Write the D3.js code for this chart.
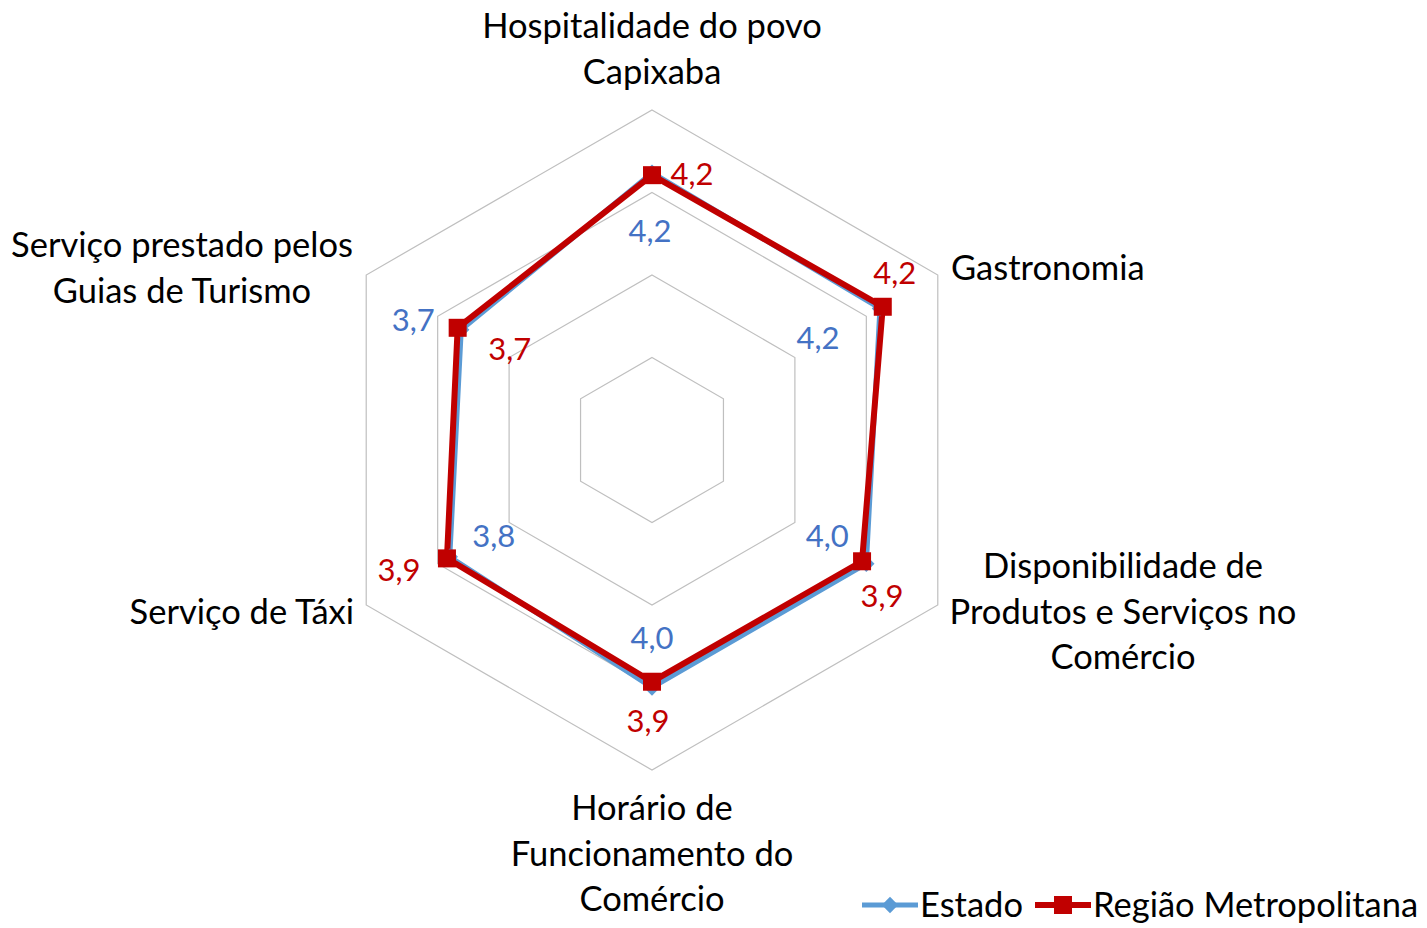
<!DOCTYPE html>
<html><head><meta charset="utf-8">
<script src="https://cdn.jsdelivr.net/npm/d3@7"></script>
<style>body{margin:0;background:#fff}svg{display:block}text{font-family:Lato,"Open Sans",sans-serif}</style>
</head><body><svg id="c" width="1427" height="928"></svg>
<script>
const categories = [
  ["Hospitalidade do povo","Capixaba"],
  ["Gastronomia"],
  ["Disponibilidade de","Produtos e Serviços no","Comércio"],
  ["Horário de","Funcionamento do","Comércio"],
  ["Serviço de Táxi"],
  ["Serviço prestado pelos","Guias de Turismo"]
];
const estado = [4.24, 4.19, 4.0, 4.0, 3.83, 3.67];
const regiao = [4.21, 4.23, 3.94, 3.93, 3.87, 3.72];
const gridLevels = [2, 3, 4, 5];
const seriesNames = ["Estado", "Região Metropolitana"];

// layout
const W = 1427, H = 928, cx = 652, cy = 440, R = 330;
const svg = d3.select("#c");
const r = d3.scaleLinear().domain([1, 5]).range([0, R]);
const ang = d3.scaleLinear().domain([0, categories.length]).range([-Math.PI/2, 1.5*Math.PI]);
const pt = (i, v) => [cx + r(v)*Math.cos(ang(i)), cy + r(v)*Math.sin(ang(i))];
const fmt = v => d3.format(".1f")(v).replace(".", ",");

// grid
svg.append("g").selectAll("path").data(gridLevels).join("path")
  .attr("d", lv => d3.line()(categories.map((c, i) => pt(i, lv))) + "Z")
  .attr("fill", "none").attr("stroke", "#bfbfbf").attr("stroke-width", 1.2);

const colors = ["#5B9BD5", "#C00000"];
const labelColors = ["#4472C4", "#C00000"];
const series = [estado, regiao];
const widths = [5, 6];

series.forEach((s, k) => {
  svg.append("path")
    .attr("d", d3.line()(s.map((v, i) => pt(i, v))) + "Z")
    .attr("fill", "none").attr("stroke", colors[k]).attr("stroke-width", widths[k])
    .attr("stroke-linejoin", "miter");
});
// markers
const diamond = d3.symbol(d3.symbolDiamond2, 170)();
svg.append("g").selectAll("path").data(estado).join("path")
  .attr("transform", (v, i) => `translate(${pt(i, v)})`)
  .attr("d", diamond)
  .attr("fill", colors[0]);
svg.append("g").selectAll("rect").data(regiao).join("rect")
  .attr("x", (v, i) => pt(i, v)[0] - 9).attr("y", (v, i) => pt(i, v)[1] - 9)
  .attr("width", 18).attr("height", 18).attr("fill", colors[1]);

// data labels
const offs = [
  [[-2, 58], [-62, 29], [-39, -28], [0, -50], [44, -21], [-48, -10]],
  [[40, -1], [12, -34], [20, 35], [-4, 39], [-48, 11], [52, 21]]
];
series.forEach((s, k) => {
  svg.append("g").selectAll("text").data(s).join("text")
    .attr("x", (v, i) => pt(i, v)[0] + offs[k][i][0])
    .attr("y", (v, i) => pt(i, v)[1] + offs[k][i][1])
    .attr("dy", "0.36em").attr("text-anchor", "middle")
    .attr("font-size", 31).attr("fill", labelColors[k])
    .text(v => fmt(v));
});

// category labels
const catPos = [
  {x: 652, y: 26, a: "middle"},
  {x: 951, y: 268, a: "start"},
  {x: 1123, y: 566, a: "middle"},
  {x: 652, y: 808, a: "middle"},
  {x: 354, y: 612, a: "end"},
  {x: 182, y: 245, a: "middle"}
];
const lineH = 45.5, fs = 34.5;
categories.forEach((lines, i) => {
  const t = svg.append("text").attr("text-anchor", catPos[i].a)
    .attr("font-size", fs).attr("fill", "#000");
  lines.forEach((ln, j) => t.append("tspan").attr("x", catPos[i].x)
    .attr("y", catPos[i].y + j*lineH).attr("dy", "0.36em").text(ln));
});

// legend
const lg = svg.append("g");
const legX = [862, 1035], legTX = [920, 1093], ly = 905;
seriesNames.forEach((n, k) => {
  lg.append("line").attr("x1", legX[k]).attr("x2", legX[k] + 56).attr("y1", ly).attr("y2", ly)
    .attr("stroke", colors[k]).attr("stroke-width", widths[k]);
  if (k === 0) lg.append("path").attr("transform", `translate(${legX[k]+28},${ly})`)
    .attr("d", diamond).attr("fill", colors[k]);
  else lg.append("rect").attr("x", legX[k]+28-9).attr("y", ly-9).attr("width", 18).attr("height", 18).attr("fill", colors[k]);
  lg.append("text").attr("x", legTX[k]).attr("y", ly).attr("dy", "0.36em")
    .attr("font-size", fs).attr("fill", "#000").text(n);
});
</script></body></html>
